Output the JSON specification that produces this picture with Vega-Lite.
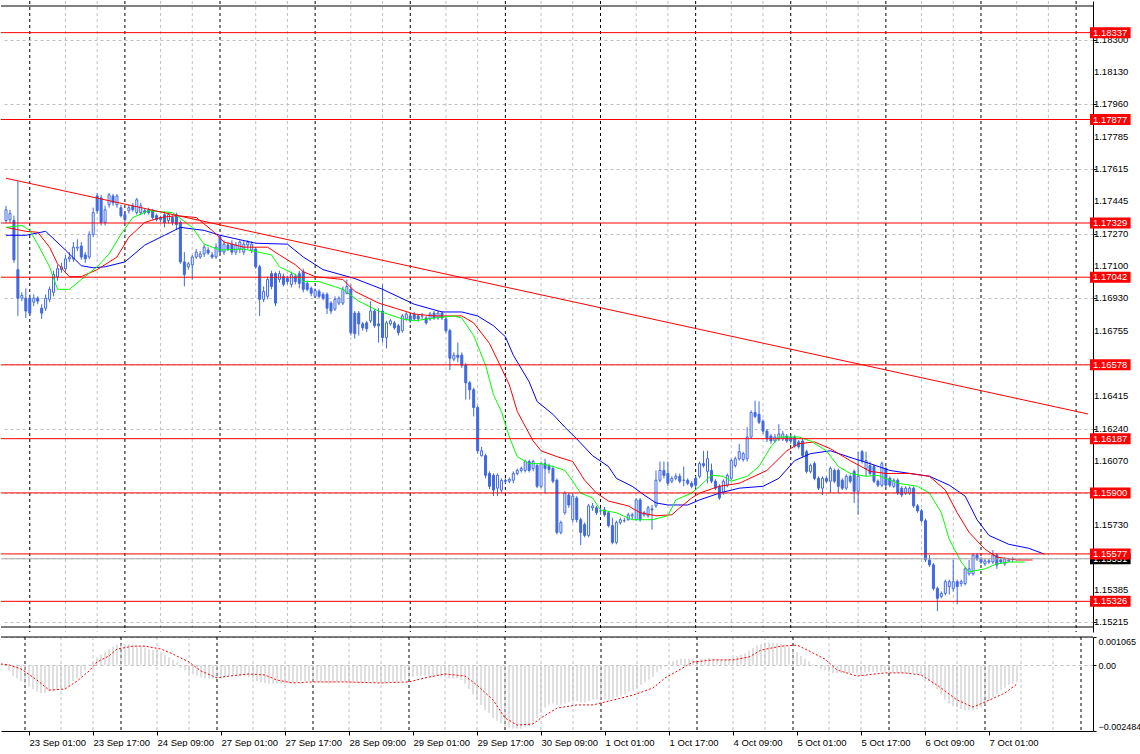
{
"$schema":"https://vega.github.io/schema/vega-lite/v6.json",
"background":"#ffffff",
"padding":{"top":0,"left":0,"right":0,"bottom":0},
"spacing":3,
"config":{"view":{"stroke":null},"axis":{"labelFont":"Liberation Sans","labelFontSize":9.5,"labelColor":"#000000","domainColor":"#000000","tickColor":"#000000","gridColor":"#c0c0c0","gridDash":[3,3],"tickSize":3,"labelPadding":3,"labelOverlap":false}},
"datasets":{
"candles":[
{"i":-6,"o":1.17342,"h":1.1742,"l":1.17327,"c":1.17399},
{"i":-5,"o":1.17347,"h":1.17399,"l":1.17327,"c":1.17379},
{"i":-4,"o":1.17342,"h":1.17368,"l":1.17118,"c":1.17134},
{"i":-3,"o":1.17082,"h":1.17551,"l":1.16837,"c":1.16931},
{"i":-2,"o":1.16931,"h":1.16962,"l":1.16915,"c":1.16946},
{"i":-1,"o":1.16931,"h":1.16983,"l":1.16826,"c":1.16863},
{"i":0,"o":1.16931,"h":1.16951,"l":1.16837,"c":1.16852},
{"i":1,"o":1.1691,"h":1.16951,"l":1.16889,"c":1.16931},
{"i":2,"o":1.16931,"h":1.16941,"l":1.16899,"c":1.16915},
{"i":3,"o":1.16878,"h":1.16899,"l":1.16821,"c":1.16852},
{"i":4,"o":1.16878,"h":1.16951,"l":1.16863,"c":1.16931},
{"i":5,"o":1.16925,"h":1.16993,"l":1.1691,"c":1.16978},
{"i":6,"o":1.16962,"h":1.17076,"l":1.16941,"c":1.17056},
{"i":7,"o":1.17045,"h":1.17108,"l":1.17024,"c":1.17087},
{"i":8,"o":1.17082,"h":1.17118,"l":1.17066,"c":1.17097},
{"i":9,"o":1.17087,"h":1.1716,"l":1.17071,"c":1.17139},
{"i":10,"o":1.17139,"h":1.17175,"l":1.17123,"c":1.17149},
{"i":11,"o":1.17139,"h":1.17228,"l":1.17123,"c":1.17201},
{"i":12,"o":1.17196,"h":1.17243,"l":1.17181,"c":1.17201},
{"i":13,"o":1.17207,"h":1.17228,"l":1.17134,"c":1.17149},
{"i":14,"o":1.1716,"h":1.17175,"l":1.17118,"c":1.17139},
{"i":15,"o":1.17149,"h":1.17285,"l":1.17139,"c":1.17269},
{"i":16,"o":1.17269,"h":1.1741,"l":1.17254,"c":1.17384},
{"i":17,"o":1.17472,"h":1.17488,"l":1.17379,"c":1.17394},
{"i":18,"o":1.17462,"h":1.17478,"l":1.17316,"c":1.17332},
{"i":19,"o":1.17332,"h":1.1742,"l":1.17316,"c":1.17399},
{"i":20,"o":1.17426,"h":1.17488,"l":1.1741,"c":1.17478},
{"i":21,"o":1.17472,"h":1.17483,"l":1.1742,"c":1.17436},
{"i":22,"o":1.17426,"h":1.17483,"l":1.1741,"c":1.17472},
{"i":23,"o":1.1741,"h":1.17426,"l":1.17358,"c":1.17368},
{"i":24,"o":1.17373,"h":1.17389,"l":1.17332,"c":1.17347},
{"i":25,"o":1.17394,"h":1.17426,"l":1.17379,"c":1.1741},
{"i":26,"o":1.1742,"h":1.17436,"l":1.17389,"c":1.17399},
{"i":27,"o":1.17384,"h":1.17462,"l":1.17373,"c":1.17452},
{"i":28,"o":1.17384,"h":1.17436,"l":1.17373,"c":1.1742},
{"i":29,"o":1.17394,"h":1.17404,"l":1.17373,"c":1.17384},
{"i":30,"o":1.17399,"h":1.1741,"l":1.17373,"c":1.17384},
{"i":31,"o":1.17394,"h":1.17404,"l":1.17347,"c":1.17358},
{"i":32,"o":1.17368,"h":1.17379,"l":1.17337,"c":1.17347},
{"i":33,"o":1.17358,"h":1.17368,"l":1.17332,"c":1.17347},
{"i":34,"o":1.17373,"h":1.17389,"l":1.17306,"c":1.17332},
{"i":35,"o":1.17342,"h":1.17384,"l":1.17327,"c":1.17373},
{"i":36,"o":1.17358,"h":1.17368,"l":1.17316,"c":1.17332},
{"i":37,"o":1.17373,"h":1.17384,"l":1.17295,"c":1.17321},
{"i":38,"o":1.17332,"h":1.17342,"l":1.17113,"c":1.17123},
{"i":39,"o":1.17123,"h":1.17175,"l":1.16993,"c":1.17056},
{"i":40,"o":1.17097,"h":1.17123,"l":1.17082,"c":1.17113},
{"i":41,"o":1.17108,"h":1.1716,"l":1.1703,"c":1.17149},
{"i":42,"o":1.17149,"h":1.17191,"l":1.17139,"c":1.17175},
{"i":43,"o":1.17149,"h":1.17181,"l":1.17139,"c":1.17165},
{"i":44,"o":1.17165,"h":1.17217,"l":1.17149,"c":1.17201},
{"i":45,"o":1.17186,"h":1.17201,"l":1.1716,"c":1.1717},
{"i":46,"o":1.1716,"h":1.17175,"l":1.17139,"c":1.17149},
{"i":47,"o":1.17149,"h":1.17222,"l":1.17139,"c":1.17201},
{"i":48,"o":1.17254,"h":1.17264,"l":1.1716,"c":1.17175},
{"i":49,"o":1.17175,"h":1.17238,"l":1.1716,"c":1.17217},
{"i":50,"o":1.17212,"h":1.17228,"l":1.17181,"c":1.17191},
{"i":51,"o":1.17217,"h":1.17238,"l":1.1716,"c":1.17175},
{"i":52,"o":1.17175,"h":1.17228,"l":1.1716,"c":1.17212},
{"i":53,"o":1.17191,"h":1.17238,"l":1.1717,"c":1.17228},
{"i":54,"o":1.17175,"h":1.17233,"l":1.1716,"c":1.17217},
{"i":55,"o":1.17212,"h":1.17238,"l":1.17191,"c":1.17228},
{"i":56,"o":1.17186,"h":1.17233,"l":1.1717,"c":1.17217},
{"i":57,"o":1.17191,"h":1.17201,"l":1.17087,"c":1.17097},
{"i":58,"o":1.17097,"h":1.17108,"l":1.16837,"c":1.16925},
{"i":59,"o":1.16925,"h":1.16993,"l":1.1691,"c":1.16967},
{"i":60,"o":1.16941,"h":1.17045,"l":1.16925,"c":1.1703},
{"i":61,"o":1.17061,"h":1.17076,"l":1.16978,"c":1.16993},
{"i":62,"o":1.17061,"h":1.17071,"l":1.16889,"c":1.16905},
{"i":63,"o":1.1703,"h":1.17076,"l":1.17014,"c":1.17061},
{"i":64,"o":1.17045,"h":1.17061,"l":1.16993,"c":1.17004},
{"i":65,"o":1.17035,"h":1.1705,"l":1.17004,"c":1.17019},
{"i":66,"o":1.17004,"h":1.17071,"l":1.16988,"c":1.17056},
{"i":67,"o":1.17045,"h":1.17061,"l":1.17004,"c":1.17019},
{"i":68,"o":1.17061,"h":1.17076,"l":1.16983,"c":1.17009},
{"i":69,"o":1.17071,"h":1.17087,"l":1.16962,"c":1.16978},
{"i":70,"o":1.17009,"h":1.17024,"l":1.16967,"c":1.16978},
{"i":71,"o":1.16983,"h":1.16993,"l":1.16941,"c":1.16957},
{"i":72,"o":1.16941,"h":1.16983,"l":1.16931,"c":1.16972},
{"i":73,"o":1.16967,"h":1.16978,"l":1.16931,"c":1.16941},
{"i":74,"o":1.16951,"h":1.16962,"l":1.1692,"c":1.16931},
{"i":75,"o":1.16951,"h":1.16962,"l":1.16847,"c":1.16878},
{"i":76,"o":1.16905,"h":1.16915,"l":1.16847,"c":1.16863},
{"i":77,"o":1.16873,"h":1.16941,"l":1.16863,"c":1.16925},
{"i":78,"o":1.16905,"h":1.16941,"l":1.16894,"c":1.16931},
{"i":79,"o":1.16905,"h":1.16993,"l":1.16894,"c":1.16978},
{"i":80,"o":1.16957,"h":1.1703,"l":1.16951,"c":1.16993},
{"i":81,"o":1.16978,"h":1.17004,"l":1.16733,"c":1.16748},
{"i":82,"o":1.16852,"h":1.16863,"l":1.16717,"c":1.16743},
{"i":83,"o":1.16852,"h":1.16863,"l":1.16733,"c":1.16795},
{"i":84,"o":1.16795,"h":1.16806,"l":1.16759,"c":1.16774},
{"i":85,"o":1.168,"h":1.16811,"l":1.16753,"c":1.16769},
{"i":86,"o":1.16811,"h":1.16915,"l":1.168,"c":1.16863},
{"i":87,"o":1.16863,"h":1.16873,"l":1.16774,"c":1.16785},
{"i":88,"o":1.16795,"h":1.16878,"l":1.16696,"c":1.16785},
{"i":89,"o":1.16863,"h":1.17004,"l":1.16696,"c":1.16722},
{"i":90,"o":1.16722,"h":1.16811,"l":1.16665,"c":1.168},
{"i":91,"o":1.16795,"h":1.16821,"l":1.16785,"c":1.16811},
{"i":92,"o":1.168,"h":1.16811,"l":1.16764,"c":1.16774},
{"i":93,"o":1.16785,"h":1.16795,"l":1.16733,"c":1.16748},
{"i":94,"o":1.16759,"h":1.16847,"l":1.16748,"c":1.16837},
{"i":95,"o":1.16821,"h":1.16858,"l":1.16811,"c":1.16847},
{"i":96,"o":1.16837,"h":1.16847,"l":1.168,"c":1.16811},
{"i":97,"o":1.16847,"h":1.16858,"l":1.16811,"c":1.16821},
{"i":98,"o":1.16837,"h":1.16847,"l":1.16806,"c":1.16821},
{"i":99,"o":1.16837,"h":1.16852,"l":1.16821,"c":1.16837},
{"i":100,"o":1.16826,"h":1.16837,"l":1.1679,"c":1.168},
{"i":101,"o":1.16821,"h":1.16858,"l":1.16811,"c":1.16847},
{"i":102,"o":1.16852,"h":1.16863,"l":1.16816,"c":1.16826},
{"i":103,"o":1.16826,"h":1.16863,"l":1.16816,"c":1.16852},
{"i":104,"o":1.16852,"h":1.16863,"l":1.16816,"c":1.16826},
{"i":105,"o":1.16821,"h":1.16837,"l":1.16748,"c":1.16759},
{"i":106,"o":1.16759,"h":1.16769,"l":1.1655,"c":1.16613},
{"i":107,"o":1.16608,"h":1.16644,"l":1.16597,"c":1.16629},
{"i":108,"o":1.16629,"h":1.16696,"l":1.16592,"c":1.16618},
{"i":109,"o":1.16629,"h":1.16644,"l":1.16561,"c":1.16576},
{"i":110,"o":1.16576,"h":1.16587,"l":1.16394,"c":1.16483},
{"i":111,"o":1.16483,"h":1.16493,"l":1.16394,"c":1.16446},
{"i":112,"o":1.16446,"h":1.16457,"l":1.16305,"c":1.16352},
{"i":113,"o":1.16352,"h":1.16363,"l":1.16108,"c":1.16123},
{"i":114,"o":1.16097,"h":1.16144,"l":1.16092,"c":1.16123},
{"i":115,"o":1.16097,"h":1.16108,"l":1.15977,"c":1.15993},
{"i":116,"o":1.16003,"h":1.16014,"l":1.1592,"c":1.15935},
{"i":117,"o":1.15993,"h":1.16003,"l":1.15883,"c":1.15915},
{"i":118,"o":1.15925,"h":1.16003,"l":1.15883,"c":1.15993},
{"i":119,"o":1.15915,"h":1.15977,"l":1.15899,"c":1.15967},
{"i":120,"o":1.15967,"h":1.15977,"l":1.15951,"c":1.15962},
{"i":121,"o":1.15962,"h":1.15982,"l":1.15951,"c":1.15972},
{"i":122,"o":1.15967,"h":1.16014,"l":1.15951,"c":1.16003},
{"i":123,"o":1.16003,"h":1.16029,"l":1.15993,"c":1.16019},
{"i":124,"o":1.16019,"h":1.1604,"l":1.16008,"c":1.16029},
{"i":125,"o":1.16019,"h":1.16076,"l":1.16008,"c":1.16066},
{"i":126,"o":1.16066,"h":1.16076,"l":1.16008,"c":1.16019},
{"i":127,"o":1.16029,"h":1.16076,"l":1.16014,"c":1.16066},
{"i":128,"o":1.16045,"h":1.16055,"l":1.15925,"c":1.15935},
{"i":129,"o":1.15935,"h":1.16066,"l":1.15925,"c":1.16055},
{"i":130,"o":1.16055,"h":1.16081,"l":1.15899,"c":1.16029},
{"i":131,"o":1.1604,"h":1.16055,"l":1.16003,"c":1.16024},
{"i":132,"o":1.16029,"h":1.16045,"l":1.15951,"c":1.15962},
{"i":133,"o":1.15967,"h":1.15977,"l":1.1568,"c":1.15691},
{"i":134,"o":1.15691,"h":1.15753,"l":1.1568,"c":1.15743},
{"i":135,"o":1.15795,"h":1.15909,"l":1.15784,"c":1.15899},
{"i":136,"o":1.15889,"h":1.15899,"l":1.15821,"c":1.15836},
{"i":137,"o":1.15758,"h":1.15899,"l":1.15743,"c":1.15883},
{"i":138,"o":1.15873,"h":1.15883,"l":1.15743,"c":1.15758},
{"i":139,"o":1.15758,"h":1.15769,"l":1.15623,"c":1.15691},
{"i":140,"o":1.15732,"h":1.15743,"l":1.15665,"c":1.15675},
{"i":141,"o":1.15675,"h":1.15841,"l":1.15665,"c":1.15831},
{"i":142,"o":1.15821,"h":1.15847,"l":1.15805,"c":1.15831},
{"i":143,"o":1.15821,"h":1.15831,"l":1.15784,"c":1.15795},
{"i":144,"o":1.15805,"h":1.15821,"l":1.15784,"c":1.15805},
{"i":145,"o":1.1581,"h":1.15826,"l":1.15774,"c":1.15784},
{"i":146,"o":1.15795,"h":1.15805,"l":1.15717,"c":1.15727},
{"i":147,"o":1.15727,"h":1.15769,"l":1.15628,"c":1.15638},
{"i":148,"o":1.15638,"h":1.15753,"l":1.15628,"c":1.15743},
{"i":149,"o":1.15743,"h":1.15769,"l":1.15732,"c":1.15758},
{"i":150,"o":1.15753,"h":1.15769,"l":1.15743,"c":1.15753},
{"i":151,"o":1.15758,"h":1.15795,"l":1.15753,"c":1.15784},
{"i":152,"o":1.15779,"h":1.15795,"l":1.15758,"c":1.15784},
{"i":153,"o":1.15758,"h":1.15873,"l":1.15753,"c":1.15863},
{"i":154,"o":1.15863,"h":1.15873,"l":1.15748,"c":1.15758},
{"i":155,"o":1.15784,"h":1.15805,"l":1.15774,"c":1.15795},
{"i":156,"o":1.15779,"h":1.15831,"l":1.15769,"c":1.15821},
{"i":157,"o":1.15815,"h":1.15836,"l":1.15706,"c":1.1581},
{"i":158,"o":1.15831,"h":1.16019,"l":1.15821,"c":1.15967},
{"i":159,"o":1.15967,"h":1.16066,"l":1.15956,"c":1.16019},
{"i":160,"o":1.16019,"h":1.16066,"l":1.15977,"c":1.15993},
{"i":161,"o":1.16003,"h":1.16066,"l":1.15935,"c":1.15951},
{"i":162,"o":1.15962,"h":1.15988,"l":1.15951,"c":1.15977},
{"i":163,"o":1.15977,"h":1.16003,"l":1.15967,"c":1.15988},
{"i":164,"o":1.15988,"h":1.16003,"l":1.15951,"c":1.15962},
{"i":165,"o":1.15967,"h":1.1604,"l":1.15935,"c":1.15967},
{"i":166,"o":1.15967,"h":1.15977,"l":1.15941,"c":1.15951},
{"i":167,"o":1.15951,"h":1.15962,"l":1.15925,"c":1.15935},
{"i":168,"o":1.15977,"h":1.15988,"l":1.15925,"c":1.15941},
{"i":169,"o":1.15988,"h":1.16066,"l":1.15977,"c":1.16055},
{"i":170,"o":1.16055,"h":1.16123,"l":1.16034,"c":1.16045},
{"i":171,"o":1.16014,"h":1.16123,"l":1.15951,"c":1.16081},
{"i":172,"o":1.16019,"h":1.16055,"l":1.15951,"c":1.15962},
{"i":173,"o":1.15962,"h":1.15972,"l":1.15915,"c":1.15925},
{"i":174,"o":1.15935,"h":1.15946,"l":1.15863,"c":1.15873},
{"i":175,"o":1.15899,"h":1.15972,"l":1.15889,"c":1.15962},
{"i":176,"o":1.15941,"h":1.16003,"l":1.1593,"c":1.15993},
{"i":177,"o":1.15977,"h":1.16081,"l":1.15967,"c":1.16071},
{"i":178,"o":1.16045,"h":1.16092,"l":1.16034,"c":1.16081},
{"i":179,"o":1.16081,"h":1.1616,"l":1.16071,"c":1.16118},
{"i":180,"o":1.16076,"h":1.16118,"l":1.16066,"c":1.16108},
{"i":181,"o":1.16081,"h":1.16248,"l":1.16066,"c":1.16196},
{"i":182,"o":1.16196,"h":1.16337,"l":1.16186,"c":1.16326},
{"i":183,"o":1.16326,"h":1.16389,"l":1.16295,"c":1.16305},
{"i":184,"o":1.16316,"h":1.16384,"l":1.16264,"c":1.16274},
{"i":185,"o":1.16279,"h":1.1629,"l":1.16212,"c":1.16227},
{"i":186,"o":1.16227,"h":1.16238,"l":1.1617,"c":1.16186},
{"i":187,"o":1.16201,"h":1.16212,"l":1.1616,"c":1.16175},
{"i":188,"o":1.16175,"h":1.16212,"l":1.16165,"c":1.16196},
{"i":189,"o":1.16186,"h":1.16264,"l":1.16175,"c":1.16212},
{"i":190,"o":1.16186,"h":1.16227,"l":1.16175,"c":1.16212},
{"i":191,"o":1.16201,"h":1.16212,"l":1.16165,"c":1.16175},
{"i":192,"o":1.16196,"h":1.16206,"l":1.1616,"c":1.16175},
{"i":193,"o":1.16196,"h":1.16206,"l":1.16139,"c":1.16149},
{"i":194,"o":1.1617,"h":1.1618,"l":1.16134,"c":1.16144},
{"i":195,"o":1.16175,"h":1.16186,"l":1.16087,"c":1.16097},
{"i":196,"o":1.16118,"h":1.16128,"l":1.16003,"c":1.16014},
{"i":197,"o":1.16014,"h":1.16055,"l":1.16003,"c":1.16045},
{"i":198,"o":1.16055,"h":1.16066,"l":1.15967,"c":1.15977},
{"i":199,"o":1.15977,"h":1.15988,"l":1.15915,"c":1.15925},
{"i":200,"o":1.15925,"h":1.15988,"l":1.15889,"c":1.15977},
{"i":201,"o":1.15977,"h":1.15988,"l":1.15951,"c":1.15962},
{"i":202,"o":1.15962,"h":1.1604,"l":1.15899,"c":1.16029},
{"i":203,"o":1.16019,"h":1.16029,"l":1.15951,"c":1.15962},
{"i":204,"o":1.16019,"h":1.16029,"l":1.15899,"c":1.15935},
{"i":205,"o":1.15967,"h":1.15977,"l":1.15915,"c":1.15925},
{"i":206,"o":1.15925,"h":1.15998,"l":1.15915,"c":1.15988},
{"i":207,"o":1.15988,"h":1.15998,"l":1.15951,"c":1.15962},
{"i":208,"o":1.16014,"h":1.16024,"l":1.15847,"c":1.15909},
{"i":209,"o":1.15909,"h":1.16118,"l":1.15784,"c":1.15988},
{"i":210,"o":1.16118,"h":1.16128,"l":1.16055,"c":1.16071},
{"i":211,"o":1.16029,"h":1.16118,"l":1.15988,"c":1.16071},
{"i":212,"o":1.16045,"h":1.16066,"l":1.15993,"c":1.16003},
{"i":213,"o":1.1604,"h":1.1605,"l":1.15951,"c":1.15962},
{"i":214,"o":1.15962,"h":1.15972,"l":1.1593,"c":1.15941},
{"i":215,"o":1.15941,"h":1.16066,"l":1.1593,"c":1.16055},
{"i":216,"o":1.16029,"h":1.1604,"l":1.1593,"c":1.15941},
{"i":217,"o":1.15977,"h":1.15988,"l":1.1593,"c":1.15941},
{"i":218,"o":1.15935,"h":1.15977,"l":1.15925,"c":1.15967},
{"i":219,"o":1.15967,"h":1.15977,"l":1.15889,"c":1.15899},
{"i":220,"o":1.15925,"h":1.15935,"l":1.15878,"c":1.15889},
{"i":221,"o":1.15899,"h":1.15935,"l":1.15889,"c":1.15925},
{"i":222,"o":1.15899,"h":1.15935,"l":1.15889,"c":1.15925},
{"i":223,"o":1.15925,"h":1.15935,"l":1.15821,"c":1.15831},
{"i":224,"o":1.15831,"h":1.15841,"l":1.15795,"c":1.15805},
{"i":225,"o":1.15805,"h":1.15815,"l":1.15743,"c":1.15753},
{"i":226,"o":1.15753,"h":1.15764,"l":1.15534,"c":1.15545},
{"i":227,"o":1.15545,"h":1.15571,"l":1.15508,"c":1.15519},
{"i":228,"o":1.15519,"h":1.15529,"l":1.15383,"c":1.15394},
{"i":229,"o":1.15394,"h":1.15404,"l":1.15274,"c":1.15342},
{"i":230,"o":1.15352,"h":1.15378,"l":1.15342,"c":1.15368},
{"i":231,"o":1.15368,"h":1.15441,"l":1.15357,"c":1.1543},
{"i":232,"o":1.15404,"h":1.15441,"l":1.15362,"c":1.1543},
{"i":233,"o":1.15394,"h":1.15545,"l":1.15378,"c":1.1543},
{"i":234,"o":1.1543,"h":1.15441,"l":1.1531,"c":1.15404},
{"i":235,"o":1.1542,"h":1.15441,"l":1.15404,"c":1.1543},
{"i":236,"o":1.1542,"h":1.15508,"l":1.1541,"c":1.15498},
{"i":237,"o":1.15472,"h":1.15545,"l":1.15462,"c":1.15498},
{"i":238,"o":1.15472,"h":1.15581,"l":1.15462,"c":1.15571},
{"i":239,"o":1.15571,"h":1.15581,"l":1.1554,"c":1.1555},
{"i":240,"o":1.1555,"h":1.1556,"l":1.15524,"c":1.15534},
{"i":241,"o":1.15524,"h":1.1555,"l":1.15514,"c":1.1554},
{"i":242,"o":1.1554,"h":1.1555,"l":1.15524,"c":1.15534},
{"i":243,"o":1.15534,"h":1.15597,"l":1.15524,"c":1.15571},
{"i":244,"o":1.15571,"h":1.15581,"l":1.15498,"c":1.15519},
{"i":245,"o":1.15545,"h":1.15555,"l":1.15524,"c":1.15534},
{"i":246,"o":1.15524,"h":1.1556,"l":1.15514,"c":1.1555},
{"i":247,"o":1.1554,"h":1.15555,"l":1.15534,"c":1.15545},
{"i":248,"o":1.1555,"h":1.1556,"l":1.15534,"c":1.15551}
],
"jaw":[
{"i":-6,"p":1.17264},{"i":-1,"p":1.17264},{"i":4,"p":1.17285},{"i":9,"p":1.17186},{"i":13,"p":1.17103},{"i":16,"p":1.17092},{"i":19,"p":1.17097},{"i":24,"p":1.17123},{"i":29,"p":1.17212},{"i":34,"p":1.17264},{"i":38,"p":1.17306},{"i":44,"p":1.1729},{"i":48,"p":1.17264},{"i":57,"p":1.17222},{"i":65,"p":1.17217},{"i":69,"p":1.17149},{"i":74,"p":1.17082},{"i":82,"p":1.17035},{"i":89,"p":1.16978},{"i":97,"p":1.16899},{"i":104,"p":1.16858},{"i":109,"p":1.16858},{"i":113,"p":1.16837},{"i":117,"p":1.16785},{"i":120,"p":1.16727},{"i":122,"p":1.16629},{"i":126,"p":1.16488},{"i":128,"p":1.16384},{"i":132,"p":1.16316},{"i":135,"p":1.16248},{"i":138,"p":1.16186},{"i":142,"p":1.16097},{"i":146,"p":1.1604},{"i":148,"p":1.15977},{"i":152,"p":1.15935},{"i":155,"p":1.15889},{"i":158,"p":1.15847},{"i":161,"p":1.15836},{"i":166,"p":1.15836},{"i":169,"p":1.15863},{"i":174,"p":1.15899},{"i":179,"p":1.15925},{"i":185,"p":1.15935},{"i":189,"p":1.15977},{"i":193,"p":1.16071},{"i":197,"p":1.16108},{"i":202,"p":1.16123},{"i":208,"p":1.16081},{"i":212,"p":1.16055},{"i":217,"p":1.16019},{"i":222,"p":1.16003},{"i":227,"p":1.15988},{"i":232,"p":1.15941},{"i":236,"p":1.15883},{"i":239,"p":1.15758},{"i":242,"p":1.15675},{"i":247,"p":1.15628},{"i":252,"p":1.15607},{"i":256,"p":1.15576}
],
"teeth":[
{"i":-6,"p":1.17306},{"i":-1,"p":1.17285},{"i":2,"p":1.1728},{"i":5,"p":1.17201},{"i":7,"p":1.17113},{"i":10,"p":1.17045},{"i":13,"p":1.17045},{"i":17,"p":1.17082},{"i":22,"p":1.17149},{"i":25,"p":1.17254},{"i":29,"p":1.17332},{"i":33,"p":1.17358},{"i":37,"p":1.17368},{"i":42,"p":1.17358},{"i":46,"p":1.1729},{"i":49,"p":1.17228},{"i":54,"p":1.17201},{"i":60,"p":1.17201},{"i":63,"p":1.1716},{"i":67,"p":1.17108},{"i":69,"p":1.17071},{"i":72,"p":1.17045},{"i":79,"p":1.1703},{"i":82,"p":1.16967},{"i":88,"p":1.16905},{"i":93,"p":1.16873},{"i":97,"p":1.16847},{"i":102,"p":1.16837},{"i":109,"p":1.16837},{"i":112,"p":1.168},{"i":116,"p":1.16691},{"i":119,"p":1.16561},{"i":121,"p":1.16472},{"i":123,"p":1.16331},{"i":127,"p":1.16175},{"i":129,"p":1.16123},{"i":133,"p":1.16092},{"i":137,"p":1.16066},{"i":140,"p":1.15967},{"i":143,"p":1.15899},{"i":146,"p":1.15857},{"i":151,"p":1.15831},{"i":154,"p":1.15795},{"i":158,"p":1.15779},{"i":162,"p":1.15784},{"i":164,"p":1.15821},{"i":167,"p":1.15873},{"i":169,"p":1.15899},{"i":174,"p":1.15935},{"i":179,"p":1.15951},{"i":186,"p":1.16019},{"i":191,"p":1.16123},{"i":194,"p":1.1616},{"i":198,"p":1.1617},{"i":202,"p":1.16134},{"i":207,"p":1.16071},{"i":212,"p":1.16014},{"i":216,"p":1.16003},{"i":222,"p":1.16003},{"i":227,"p":1.15988},{"i":231,"p":1.15915},{"i":234,"p":1.15795},{"i":237,"p":1.15691},{"i":241,"p":1.15602},{"i":244,"p":1.1556},{"i":249,"p":1.15545},{"i":253,"p":1.15545}
],
"lips":[
{"i":-6,"p":1.17306},{"i":-2,"p":1.17316},{"i":0,"p":1.1729},{"i":2,"p":1.17217},{"i":5,"p":1.17097},{"i":7,"p":1.16978},{"i":10,"p":1.16978},{"i":13,"p":1.1703},{"i":17,"p":1.17097},{"i":20,"p":1.17165},{"i":23,"p":1.17269},{"i":26,"p":1.17358},{"i":30,"p":1.17394},{"i":36,"p":1.17384},{"i":41,"p":1.17306},{"i":44,"p":1.17217},{"i":48,"p":1.17186},{"i":54,"p":1.17191},{"i":61,"p":1.1716},{"i":63,"p":1.17097},{"i":67,"p":1.17056},{"i":69,"p":1.17019},{"i":73,"p":1.17019},{"i":79,"p":1.16978},{"i":83,"p":1.16915},{"i":88,"p":1.16863},{"i":94,"p":1.16821},{"i":97,"p":1.16811},{"i":102,"p":1.16826},{"i":107,"p":1.16837},{"i":109,"p":1.16826},{"i":112,"p":1.16733},{"i":115,"p":1.16576},{"i":117,"p":1.1642},{"i":119,"p":1.16331},{"i":121,"p":1.16196},{"i":123,"p":1.16092},{"i":126,"p":1.16055},{"i":129,"p":1.16055},{"i":132,"p":1.1604},{"i":135,"p":1.16019},{"i":137,"p":1.15962},{"i":139,"p":1.15899},{"i":142,"p":1.15873},{"i":144,"p":1.1581},{"i":148,"p":1.15795},{"i":152,"p":1.15758},{"i":157,"p":1.15758},{"i":161,"p":1.15779},{"i":163,"p":1.15863},{"i":167,"p":1.15899},{"i":169,"p":1.15935},{"i":172,"p":1.15993},{"i":175,"p":1.15988},{"i":177,"p":1.15962},{"i":181,"p":1.15988},{"i":184,"p":1.1604},{"i":187,"p":1.16144},{"i":189,"p":1.16196},{"i":194,"p":1.16196},{"i":197,"p":1.16175},{"i":201,"p":1.16123},{"i":204,"p":1.1604},{"i":207,"p":1.16003},{"i":211,"p":1.15988},{"i":214,"p":1.15993},{"i":219,"p":1.15951},{"i":224,"p":1.15935},{"i":227,"p":1.15899},{"i":230,"p":1.15795},{"i":232,"p":1.15654},{"i":235,"p":1.15534},{"i":237,"p":1.15482},{"i":241,"p":1.15498},{"i":244,"p":1.15524},{"i":247,"p":1.15534},{"i":251,"p":1.15534}
],
"trend":[{"i":-6,"p":1.17566},{"i":267,"p":1.16318}],
"levels":[{"p":1.18337},{"p":1.17877},{"p":1.17329},{"p":1.17042},{"p":1.16578},{"p":1.16187},{"p":1.159},{"p":1.15577},{"p":1.15326}],
"cur":[{"p":1.15551}],
"yticks":[{"p":1.183},{"p":1.1813},{"p":1.1796},{"p":1.17785},{"p":1.17615},{"p":1.17445},{"p":1.1727},{"p":1.171},{"p":1.1693},{"p":1.16755},{"p":1.16585},{"p":1.16415},{"p":1.1624},{"p":1.1607},{"p":1.159},{"p":1.1573},{"p":1.15555},{"p":1.15385},{"p":1.15215}],
"gx":[{"i":9},{"i":17},{"i":33},{"i":41},{"i":57},{"i":65},{"i":81},{"i":89},{"i":105},{"i":113},{"i":129},{"i":137},{"i":153},{"i":161},{"i":177},{"i":185},{"i":201},{"i":209},{"i":225},{"i":233},{"i":249},{"i":257}],
"dx":[{"i":0},{"i":24},{"i":48},{"i":72},{"i":96},{"i":120},{"i":144},{"i":168},{"i":192},{"i":216},{"i":240},{"i":264}],
"macd":[
{"i":-6,"m":0.00003},{"i":-5,"m":0},{"i":-4,"m":-0.0002},{"i":-3,"m":-0.0004},{"i":-2,"m":-0.0005},{"i":-1,"m":-0.0006},{"i":0,"m":-0.0007},{"i":1,"m":-0.0008},{"i":2,"m":-0.0009},{"i":3,"m":-0.001},{"i":4,"m":-0.00105},{"i":5,"m":-0.00105},{"i":6,"m":-0.001},{"i":7,"m":-0.001},{"i":8,"m":-0.00095},{"i":9,"m":-0.0009},{"i":10,"m":-0.0009},{"i":11,"m":-0.0008},{"i":12,"m":-0.0006},{"i":13,"m":-0.0005},{"i":14,"m":-0.0004},{"i":15,"m":-0.0002},{"i":16,"m":0},{"i":17,"m":0.0001},{"i":18,"m":0.0003},{"i":19,"m":0.0004},{"i":20,"m":0.0005},{"i":21,"m":0.0006},{"i":22,"m":0.0007},{"i":23,"m":0.00078},{"i":24,"m":0.0008},{"i":25,"m":0.0008},{"i":26,"m":0.0008},{"i":27,"m":0.00078},{"i":28,"m":0.00075},{"i":29,"m":0.0007},{"i":30,"m":0.00065},{"i":31,"m":0.0006},{"i":32,"m":0.00058},{"i":33,"m":0.00055},{"i":34,"m":0.0005},{"i":35,"m":0.0004},{"i":36,"m":0.0003},{"i":37,"m":0.0002},{"i":38,"m":0.0001},{"i":39,"m":-0.0001},{"i":40,"m":-0.0002},{"i":41,"m":-0.0003},{"i":42,"m":-0.00035},{"i":43,"m":-0.0004},{"i":44,"m":-0.00045},{"i":45,"m":-0.0005},{"i":46,"m":-0.0005},{"i":47,"m":-0.0005},{"i":48,"m":-0.0005},{"i":49,"m":-0.0005},{"i":50,"m":-0.00045},{"i":51,"m":-0.0004},{"i":52,"m":-0.0004},{"i":53,"m":-0.0004},{"i":54,"m":-0.0004},{"i":55,"m":-0.00042},{"i":56,"m":-0.00045},{"i":57,"m":-0.0005},{"i":58,"m":-0.0006},{"i":59,"m":-0.00065},{"i":60,"m":-0.00068},{"i":61,"m":-0.0007},{"i":62,"m":-0.0007},{"i":63,"m":-0.0007},{"i":64,"m":-0.0007},{"i":65,"m":-0.0007},{"i":66,"m":-0.00068},{"i":67,"m":-0.00065},{"i":68,"m":-0.00063},{"i":69,"m":-0.0006},{"i":70,"m":-0.0006},{"i":71,"m":-0.0006},{"i":72,"m":-0.00062},{"i":73,"m":-0.00063},{"i":74,"m":-0.00065},{"i":75,"m":-0.00068},{"i":76,"m":-0.0007},{"i":77,"m":-0.00068},{"i":78,"m":-0.00065},{"i":79,"m":-0.00063},{"i":80,"m":-0.00065},{"i":81,"m":-0.0007},{"i":82,"m":-0.0007},{"i":83,"m":-0.00068},{"i":84,"m":-0.00068},{"i":85,"m":-0.00065},{"i":86,"m":-0.00063},{"i":87,"m":-0.00065},{"i":88,"m":-0.00065},{"i":89,"m":-0.00068},{"i":90,"m":-0.00068},{"i":91,"m":-0.00065},{"i":92,"m":-0.00065},{"i":93,"m":-0.00063},{"i":94,"m":-0.0006},{"i":95,"m":-0.00055},{"i":96,"m":-0.0005},{"i":97,"m":-0.00045},{"i":98,"m":-0.0004},{"i":99,"m":-0.0004},{"i":100,"m":-0.0004},{"i":101,"m":-0.00042},{"i":102,"m":-0.0004},{"i":103,"m":-0.0004},{"i":104,"m":-0.00042},{"i":105,"m":-0.00045},{"i":106,"m":-0.0005},{"i":107,"m":-0.0005},{"i":108,"m":-0.0005},{"i":109,"m":-0.00055},{"i":110,"m":-0.0007},{"i":111,"m":-0.0009},{"i":112,"m":-0.0011},{"i":113,"m":-0.0013},{"i":114,"m":-0.0015},{"i":115,"m":-0.0017},{"i":116,"m":-0.0018},{"i":117,"m":-0.002},{"i":118,"m":-0.0021},{"i":119,"m":-0.0022},{"i":120,"m":-0.0023},{"i":121,"m":-0.00235},{"i":122,"m":-0.0024},{"i":123,"m":-0.0024},{"i":124,"m":-0.0024},{"i":125,"m":-0.00235},{"i":126,"m":-0.0023},{"i":127,"m":-0.0022},{"i":128,"m":-0.002},{"i":129,"m":-0.0018},{"i":130,"m":-0.0016},{"i":131,"m":-0.0015},{"i":132,"m":-0.00145},{"i":133,"m":-0.0015},{"i":134,"m":-0.0015},{"i":135,"m":-0.00145},{"i":136,"m":-0.0014},{"i":137,"m":-0.0014},{"i":138,"m":-0.00135},{"i":139,"m":-0.0014},{"i":140,"m":-0.0014},{"i":141,"m":-0.00135},{"i":142,"m":-0.0013},{"i":143,"m":-0.0013},{"i":144,"m":-0.0013},{"i":145,"m":-0.0013},{"i":146,"m":-0.0013},{"i":147,"m":-0.00125},{"i":148,"m":-0.0012},{"i":149,"m":-0.00115},{"i":150,"m":-0.0011},{"i":151,"m":-0.001},{"i":152,"m":-0.00095},{"i":153,"m":-0.0009},{"i":154,"m":-0.00075},{"i":155,"m":-0.00065},{"i":156,"m":-0.00055},{"i":157,"m":-0.00045},{"i":158,"m":-0.00025},{"i":159,"m":-0.00015},{"i":160,"m":-0.00005},{"i":161,"m":0.00003},{"i":162,"m":0.00015},{"i":163,"m":0.0002},{"i":164,"m":0.00025},{"i":165,"m":0.00025},{"i":166,"m":0.00025},{"i":167,"m":0.00023},{"i":168,"m":0.0002},{"i":169,"m":0.00022},{"i":170,"m":0.00025},{"i":171,"m":0.00028},{"i":172,"m":0.00025},{"i":173,"m":0.00023},{"i":174,"m":0.0002},{"i":175,"m":0.00022},{"i":176,"m":0.00025},{"i":177,"m":0.0003},{"i":178,"m":0.00035},{"i":179,"m":0.0004},{"i":180,"m":0.00045},{"i":181,"m":0.00055},{"i":182,"m":0.00065},{"i":183,"m":0.00075},{"i":184,"m":0.0008},{"i":185,"m":0.00085},{"i":186,"m":0.00085},{"i":187,"m":0.00085},{"i":188,"m":0.00083},{"i":189,"m":0.0008},{"i":190,"m":0.00078},{"i":191,"m":0.0007},{"i":192,"m":0.0006},{"i":193,"m":0.0005},{"i":194,"m":0.00035},{"i":195,"m":0.00025},{"i":196,"m":0.00015},{"i":197,"m":0.00005},{"i":198,"m":-0.00005},{"i":199,"m":-0.00015},{"i":200,"m":-0.0002},{"i":201,"m":-0.00025},{"i":202,"m":-0.0003},{"i":203,"m":-0.0003},{"i":204,"m":-0.0003},{"i":205,"m":-0.0003},{"i":206,"m":-0.00028},{"i":207,"m":-0.0003},{"i":208,"m":-0.0003},{"i":209,"m":-0.0003},{"i":210,"m":-0.00028},{"i":211,"m":-0.00025},{"i":212,"m":-0.00025},{"i":213,"m":-0.00025},{"i":214,"m":-0.00025},{"i":215,"m":-0.00025},{"i":216,"m":-0.00025},{"i":217,"m":-0.00028},{"i":218,"m":-0.0003},{"i":219,"m":-0.0003},{"i":220,"m":-0.0003},{"i":221,"m":-0.00032},{"i":222,"m":-0.0003},{"i":223,"m":-0.00035},{"i":224,"m":-0.0004},{"i":225,"m":-0.0005},{"i":226,"m":-0.0006},{"i":227,"m":-0.00075},{"i":228,"m":-0.0009},{"i":229,"m":-0.0011},{"i":230,"m":-0.0013},{"i":231,"m":-0.00145},{"i":232,"m":-0.00155},{"i":233,"m":-0.0016},{"i":234,"m":-0.00165},{"i":235,"m":-0.0017},{"i":236,"m":-0.0017},{"i":237,"m":-0.0017},{"i":238,"m":-0.00165},{"i":239,"m":-0.0016},{"i":240,"m":-0.0015},{"i":241,"m":-0.00135},{"i":242,"m":-0.0012},{"i":243,"m":-0.0011},{"i":244,"m":-0.00095},{"i":245,"m":-0.00085},{"i":246,"m":-0.00075},{"i":247,"m":-0.0007},{"i":248,"m":-0.00065}
],
"sig":[
{"i":-6,"v":0.000045},{"i":-4,"v":0.00001},{"i":-1,"v":-0.00014},{"i":3,"v":-0.00056},{"i":6,"v":-0.00094},{"i":10,"v":-0.0009},{"i":13,"v":-0.0006},{"i":16,"v":-0.00022},{"i":18,"v":0.00012},{"i":21,"v":0.00035},{"i":23,"v":0.00061},{"i":27,"v":0.00072},{"i":30,"v":0.00072},{"i":34,"v":0.00061},{"i":37,"v":0.00042},{"i":41,"v":0.00012},{"i":44,"v":-0.00022},{"i":48,"v":-0.00048},{"i":51,"v":-0.00041},{"i":56,"v":-0.00033},{"i":60,"v":-0.00037},{"i":63,"v":-0.00056},{"i":67,"v":-0.00067},{"i":72,"v":-0.00063},{"i":80,"v":-0.00063},{"i":89,"v":-0.00067},{"i":96,"v":-0.00063},{"i":100,"v":-0.00048},{"i":105,"v":-0.00033},{"i":110,"v":-0.00041},{"i":113,"v":-0.00075},{"i":117,"v":-0.00131},{"i":120,"v":-0.00199},{"i":123,"v":-0.00226},{"i":127,"v":-0.00222},{"i":129,"v":-0.00199},{"i":133,"v":-0.00162},{"i":138,"v":-0.0015},{"i":142,"v":-0.0015},{"i":146,"v":-0.00135},{"i":152,"v":-0.00113},{"i":157,"v":-0.00086},{"i":160,"v":-0.00048},{"i":164,"v":-0.00014},{"i":167,"v":0.00012},{"i":172,"v":0.0002},{"i":177,"v":0.0002},{"i":181,"v":0.00031},{"i":184,"v":0.00057},{"i":189,"v":0.00072},{"i":193,"v":0.00076},{"i":196,"v":0.00054},{"i":200,"v":0.00023},{"i":203,"v":-0.00018},{"i":208,"v":-0.00041},{"i":215,"v":-0.00029},{"i":220,"v":-0.00029},{"i":224,"v":-0.00037},{"i":228,"v":-0.00075},{"i":233,"v":-0.00131},{"i":237,"v":-0.00158},{"i":240,"v":-0.00139},{"i":245,"v":-0.00105},{"i":248,"v":-0.00071}
]
},
"vconcat":[
{"width":1092,"height":631,
"layer":[
{"data":{"name":"gx"},"mark":{"type":"rule","color":"#c0c0c0","strokeDash":[3,3],"strokeWidth":1},"encoding":{"x":{"field":"i","type":"quantitative","scale":{"domain":[-6,267],"nice":false,"zero":false},"axis":null}}},
{"data":{"name":"dx"},"mark":{"type":"rule","color":"#000000","strokeDash":[3,3],"strokeWidth":1},"encoding":{"x":{"field":"i","type":"quantitative","scale":{"domain":[-6,267],"nice":false,"zero":false},"axis":null}}},
{"data":{"name":"candles"},"mark":{"type":"rule","color":"#4169e1","strokeWidth":1,"clip":true},"encoding":{"x":{"field":"i","type":"quantitative","scale":{"domain":[-6,267],"nice":false,"zero":false},"axis":null},"y":{"field":"l","type":"quantitative","title":null,"scale":{"domain":[1.1519,1.18478],"nice":false,"zero":false},"axis":{"orient":"right","values":[1.183,1.1813,1.1796,1.17785,1.17615,1.17445,1.1727,1.171,1.1693,1.16755,1.16585,1.16415,1.1624,1.1607,1.159,1.1573,1.15555,1.15385,1.15215],"labels":false,"grid":true,"tickSize":3,"title":null}},"y2":{"field":"h"}}},
{"data":{"name":"candles"},"mark":{"type":"bar","width":2,"stroke":"#4169e1","strokeWidth":1,"clip":true},"encoding":{"x":{"field":"i","type":"quantitative","scale":{"domain":[-6,267],"nice":false,"zero":false},"axis":null},"y":{"field":"o","type":"quantitative","title":null,"scale":{"domain":[1.1519,1.18478],"nice":false,"zero":false}},"y2":{"field":"c"},"fill":{"condition":{"test":"datum.c > datum.o","value":"#ffffff"},"value":"#4169e1"}}},
{"data":{"name":"jaw"},"mark":{"type":"line","color":"#0000ff","strokeWidth":1,"clip":true},"encoding":{"x":{"field":"i","type":"quantitative","scale":{"domain":[-6,267],"nice":false,"zero":false},"axis":null},"y":{"field":"p","type":"quantitative","title":null,"scale":{"domain":[1.1519,1.18478],"nice":false,"zero":false}}}},
{"data":{"name":"teeth"},"mark":{"type":"line","color":"#ff0000","strokeWidth":1,"clip":true},"encoding":{"x":{"field":"i","type":"quantitative","scale":{"domain":[-6,267],"nice":false,"zero":false},"axis":null},"y":{"field":"p","type":"quantitative","title":null,"scale":{"domain":[1.1519,1.18478],"nice":false,"zero":false}}}},
{"data":{"name":"lips"},"mark":{"type":"line","color":"#00ff00","strokeWidth":1,"clip":true},"encoding":{"x":{"field":"i","type":"quantitative","scale":{"domain":[-6,267],"nice":false,"zero":false},"axis":null},"y":{"field":"p","type":"quantitative","title":null,"scale":{"domain":[1.1519,1.18478],"nice":false,"zero":false}}}},
{"data":{"name":"trend"},"mark":{"type":"line","color":"#ff0000","strokeWidth":1,"clip":true},"encoding":{"x":{"field":"i","type":"quantitative","scale":{"domain":[-6,267],"nice":false,"zero":false},"axis":null},"y":{"field":"p","type":"quantitative","title":null,"scale":{"domain":[1.1519,1.18478],"nice":false,"zero":false}}}},
{"data":{"name":"levels"},"mark":{"type":"rule","color":"#ff0000","strokeWidth":1,"clip":true},"encoding":{"y":{"field":"p","type":"quantitative","title":null,"scale":{"domain":[1.1519,1.18478],"nice":false,"zero":false}}}},
{"data":{"name":"cur"},"mark":{"type":"rule","color":"#a8a8a8","strokeWidth":1,"clip":true},"encoding":{"y":{"field":"p","type":"quantitative","title":null,"scale":{"domain":[1.1519,1.18478],"nice":false,"zero":false}}}},
{"data":{"values":[{}]},"mark":{"type":"rule","color":"#000000","strokeWidth":1},"encoding":{"y":{"datum":1.18478,"type":"quantitative"}}},
{"data":{"values":[{}]},"mark":{"type":"rule","color":"#000000","strokeWidth":1},"encoding":{"y":{"datum":1.1519,"type":"quantitative"}}},
{"data":{"name":"yticks"},"mark":{"type":"text","color":"#000000","font":"Liberation Sans","fontSize":9.5,"align":"left","baseline":"middle"},"encoding":{"x":{"datum":268.5,"type":"quantitative"},"y":{"field":"p","type":"quantitative","title":null},"text":{"field":"p","type":"quantitative","format":".5f"}}},
{"data":{"name":"cur"},"mark":{"type":"bar","orient":"horizontal","height":11,"color":"#000000"},"encoding":{"x":{"datum":267.5,"type":"quantitative"},"x2":{"datum":277.75},"y":{"field":"p","type":"quantitative","title":null}}},
{"data":{"name":"cur"},"mark":{"type":"text","color":"#ffffff","font":"Liberation Sans","fontSize":9.5,"align":"center","baseline":"middle"},"encoding":{"x":{"datum":272.6,"type":"quantitative"},"y":{"field":"p","type":"quantitative","title":null},"text":{"field":"p","type":"quantitative","format":".5f"}}},
{"data":{"name":"levels"},"mark":{"type":"bar","orient":"horizontal","height":11,"color":"#ff0000"},"encoding":{"x":{"datum":267.5,"type":"quantitative"},"x2":{"datum":277.75},"y":{"field":"p","type":"quantitative","title":null}}},
{"data":{"name":"levels"},"mark":{"type":"text","color":"#ffffff","font":"Liberation Sans","fontSize":9.5,"align":"center","baseline":"middle"},"encoding":{"x":{"datum":272.6,"type":"quantitative"},"y":{"field":"p","type":"quantitative","title":null},"text":{"field":"p","type":"quantitative","format":".5f"}}}
]},
{"width":1092,"height":94,
"layer":[
{"data":{"name":"gx"},"mark":{"type":"rule","color":"#c0c0c0","strokeDash":[3,3],"strokeWidth":1},"encoding":{"x":{"field":"i","type":"quantitative","scale":{"domain":[-6,267],"nice":false,"zero":false},"axis":{"orient":"bottom","values":[1,17,33,49,65,81,97,113,129,145,161,177,193,209,225,241],"labelExpr":"['23 Sep 01:00','23 Sep 17:00','24 Sep 09:00','27 Sep 01:00','27 Sep 17:00','28 Sep 09:00','29 Sep 01:00','29 Sep 17:00','30 Sep 09:00','1 Oct 01:00','1 Oct 17:00','4 Oct 09:00','5 Oct 01:00','5 Oct 17:00','6 Oct 09:00','7 Oct 01:00'][(datum.value-1)/16]","labelAlign":"left","labelBaseline":"top","labelFlush":false,"labelOverlap":false,"grid":false,"tickSize":4,"labelPadding":2,"title":null}}}},
{"data":{"name":"dx"},"mark":{"type":"rule","color":"#000000","strokeDash":[3,3],"strokeWidth":1},"encoding":{"x":{"field":"i","type":"quantitative","scale":{"domain":[-6,267],"nice":false,"zero":false},"axis":{"orient":"bottom","values":[1,17,33,49,65,81,97,113,129,145,161,177,193,209,225,241],"labelExpr":"['23 Sep 01:00','23 Sep 17:00','24 Sep 09:00','27 Sep 01:00','27 Sep 17:00','28 Sep 09:00','29 Sep 01:00','29 Sep 17:00','30 Sep 09:00','1 Oct 01:00','1 Oct 17:00','4 Oct 09:00','5 Oct 01:00','5 Oct 17:00','6 Oct 09:00','7 Oct 01:00'][(datum.value-1)/16]","labelAlign":"left","labelBaseline":"top","labelFlush":false,"labelOverlap":false,"grid":false,"tickSize":4,"labelPadding":2,"title":null}}}},
{"data":{"name":"macd"},"mark":{"type":"rule","color":"#c0c0c0","strokeWidth":1,"clip":true},"encoding":{"x":{"field":"i","type":"quantitative","scale":{"domain":[-6,267],"nice":false,"zero":false},"axis":{"orient":"bottom","values":[1,17,33,49,65,81,97,113,129,145,161,177,193,209,225,241],"labelExpr":"['23 Sep 01:00','23 Sep 17:00','24 Sep 09:00','27 Sep 01:00','27 Sep 17:00','28 Sep 09:00','29 Sep 01:00','29 Sep 17:00','30 Sep 09:00','1 Oct 01:00','1 Oct 17:00','4 Oct 09:00','5 Oct 01:00','5 Oct 17:00','6 Oct 09:00','7 Oct 01:00'][(datum.value-1)/16]","labelAlign":"left","labelBaseline":"top","labelFlush":false,"labelOverlap":false,"grid":false,"tickSize":4,"labelPadding":2,"title":null}},"y":{"field":"m","type":"quantitative","title":null,"scale":{"domain":[-0.002484,0.001065],"nice":false,"zero":false},"axis":{"orient":"right","values":[0.001065,0,-0.002484],"labelExpr":"datum.value == 0 ? '0.00' : format(datum.value, '.6f')","labelFlush":true,"labelOverlap":false,"labelFontSize":9,"tickSize":3,"labelPadding":2,"grid":true,"title":null}},"y2":{"datum":0}}},
{"data":{"name":"sig"},"mark":{"type":"line","color":"#ff0000","strokeWidth":1,"strokeDash":[2,2],"clip":true},"encoding":{"x":{"field":"i","type":"quantitative","scale":{"domain":[-6,267],"nice":false,"zero":false},"axis":{"orient":"bottom","values":[1,17,33,49,65,81,97,113,129,145,161,177,193,209,225,241],"labelExpr":"['23 Sep 01:00','23 Sep 17:00','24 Sep 09:00','27 Sep 01:00','27 Sep 17:00','28 Sep 09:00','29 Sep 01:00','29 Sep 17:00','30 Sep 09:00','1 Oct 01:00','1 Oct 17:00','4 Oct 09:00','5 Oct 01:00','5 Oct 17:00','6 Oct 09:00','7 Oct 01:00'][(datum.value-1)/16]","labelAlign":"left","labelBaseline":"top","labelFlush":false,"labelOverlap":false,"grid":false,"tickSize":4,"labelPadding":2,"title":null}},"y":{"field":"v","type":"quantitative","title":null,"scale":{"domain":[-0.002484,0.001065],"nice":false,"zero":false}}}},
{"data":{"values":[{}]},"mark":{"type":"rule","color":"#000000","strokeWidth":1},"encoding":{"y":{"datum":0.001065,"type":"quantitative"}}}
]}
]
}
